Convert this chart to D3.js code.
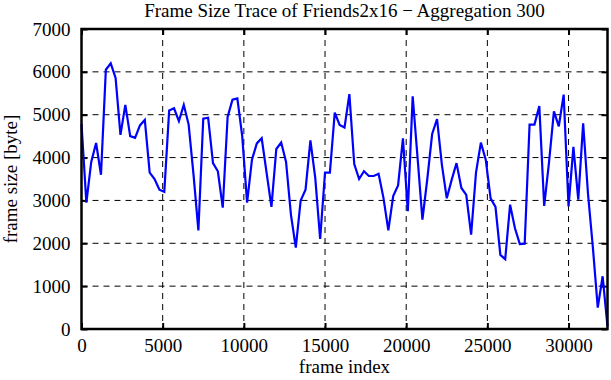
<!DOCTYPE html>
<html>
<head>
<meta charset="utf-8">
<script src="https://cdn.jsdelivr.net/npm/d3@7/dist/d3.min.js"></script>
<style>
	body { margin: 0; background: #fff; }
	text { font-family: 'Liberation Serif', 'DejaVu Serif', serif; fill: #000; }
</style>
</head>
<body>
<div id="chart"></div>
<script>
(function(window){
	'use strict';

	// frame size per aggregation window of 300 frames
	var aggregation = 300;
	var frameSizes = [
		4780, 2950, 3900, 4340, 3600, 6050, 6200, 5860, 4530, 5230,
		4500, 4460, 4750, 4880, 3650, 3500, 3250, 3200, 5100, 5150,
		4850, 5230, 4770, 3600, 2300, 4910, 4930, 3870, 3680, 2830,
		4950, 5350, 5380, 4500, 2950, 3950, 4330, 4450, 3650, 2850,
		4200, 4350, 3900, 2670, 1900, 3000, 3250, 4400, 3520, 2100,
		3650, 3650, 5050, 4760, 4700, 5480, 3850, 3500, 3680, 3570,
		3570, 3620, 3060, 2300, 3100, 3350, 4450, 2750, 5430, 4000,
		2550, 3500, 4550, 4900, 3830, 3050, 3480, 3870, 3290, 3130,
		2200, 3650, 4350, 3950, 3050, 2850, 1730, 1630, 2900, 2350,
		1980, 1990, 4770, 4770, 5200, 2870, 3900, 5080, 4730, 5470,
		2860, 4250, 3020, 4800, 3150, 1900, 500, 1230, 60
	];
	var xTicks = [0, 5000, 10000, 15000, 20000, 25000, 30000];
	var yTicks = [0, 1000, 2000, 3000, 4000, 5000, 6000, 7000];
	var xMax = 32400, yMax = 7000;

	var title = 'Frame Size Trace of Friends2x16 \u2212 Aggregation 300';
	var xLabel = 'frame index';
	var yLabel = 'frame size [byte]';

	var W = 611, H = 380, fs = 19;
	var m = {left: 81.5, right: 3.5, top: 29, bottom: 51};
	var w = W - m.left - m.right, h = H - m.top - m.bottom;

	var svg = d3.select('#chart').append('svg').attr('width', W).attr('height', H);
	var g = svg.append('g').attr('transform', 'translate(' + m.left + ',' + m.top + ')');

	var x = d3.scaleLinear().domain([0, xMax]).range([0, w]);
	var y = d3.scaleLinear().domain([0, yMax]).range([h, 0]);

	// dashed grid
	g.selectAll('line.gx').data(xTicks.slice(1)).enter().append('line')
		.attr('x1', function(d){ return x(d); }).attr('x2', function(d){ return x(d); })
		.attr('y1', 0).attr('y2', h)
		.attr('stroke', '#000').attr('stroke-width', 1).attr('stroke-dasharray', '6,5');
	g.selectAll('line.gy').data(yTicks.slice(1, -1)).enter().append('line')
		.attr('x1', 0).attr('x2', w)
		.attr('y1', function(d){ return y(d); }).attr('y2', function(d){ return y(d); })
		.attr('stroke', '#000').attr('stroke-width', 1).attr('stroke-dasharray', '6,5');

	// axes with inward ticks
	var fmt = d3.format('d');
	var ax = [
		g.append('g').attr('transform', 'translate(0,' + h + ')').call(d3.axisBottom(x).tickValues(xTicks).tickSize(-6).tickPadding(10).tickFormat(fmt)),
		g.append('g').call(d3.axisTop(x).tickValues(xTicks).tickSize(-6).tickFormat('')),
		g.append('g').call(d3.axisLeft(y).tickValues(yTicks).tickSize(-6).tickPadding(11).tickFormat(fmt)),
		g.append('g').attr('transform', 'translate(' + w + ',0)').call(d3.axisRight(y).tickValues(yTicks).tickSize(-6).tickFormat(''))
	];
	ax.forEach(function(a){
		a.select('.domain').remove();
		a.selectAll('.tick line').attr('stroke', '#000').attr('stroke-width', 2);
		a.selectAll('.tick text').attr('font-size', fs).attr('font-family', "'Liberation Serif', serif");
	});

	// trace
	var line = d3.line()
		.x(function(d, i){ return x(i * aggregation); })
		.y(function(d){ return y(d); });
	g.append('path').datum(frameSizes)
		.attr('d', line)
		.attr('fill', 'none').attr('stroke', '#0000ff').attr('stroke-width', 2.2)
		.attr('stroke-linejoin', 'miter');

	// frame
	g.append('rect').attr('width', w).attr('height', h)
		.attr('fill', 'none').attr('stroke', '#000').attr('stroke-width', 2.5);

	svg.append('text').attr('x', m.left + w / 2).attr('y', 17)
		.attr('text-anchor', 'middle').attr('font-size', fs).text(title);
	svg.append('text').attr('x', m.left + w / 2).attr('y', 373)
		.attr('text-anchor', 'middle').attr('font-size', fs).text(xLabel);
	svg.append('text').attr('transform', 'translate(17,' + (m.top + h / 2) + ') rotate(-90)')
		.attr('text-anchor', 'middle').attr('font-size', fs).text(yLabel);

})(window);
</script>
</body>
</html>
